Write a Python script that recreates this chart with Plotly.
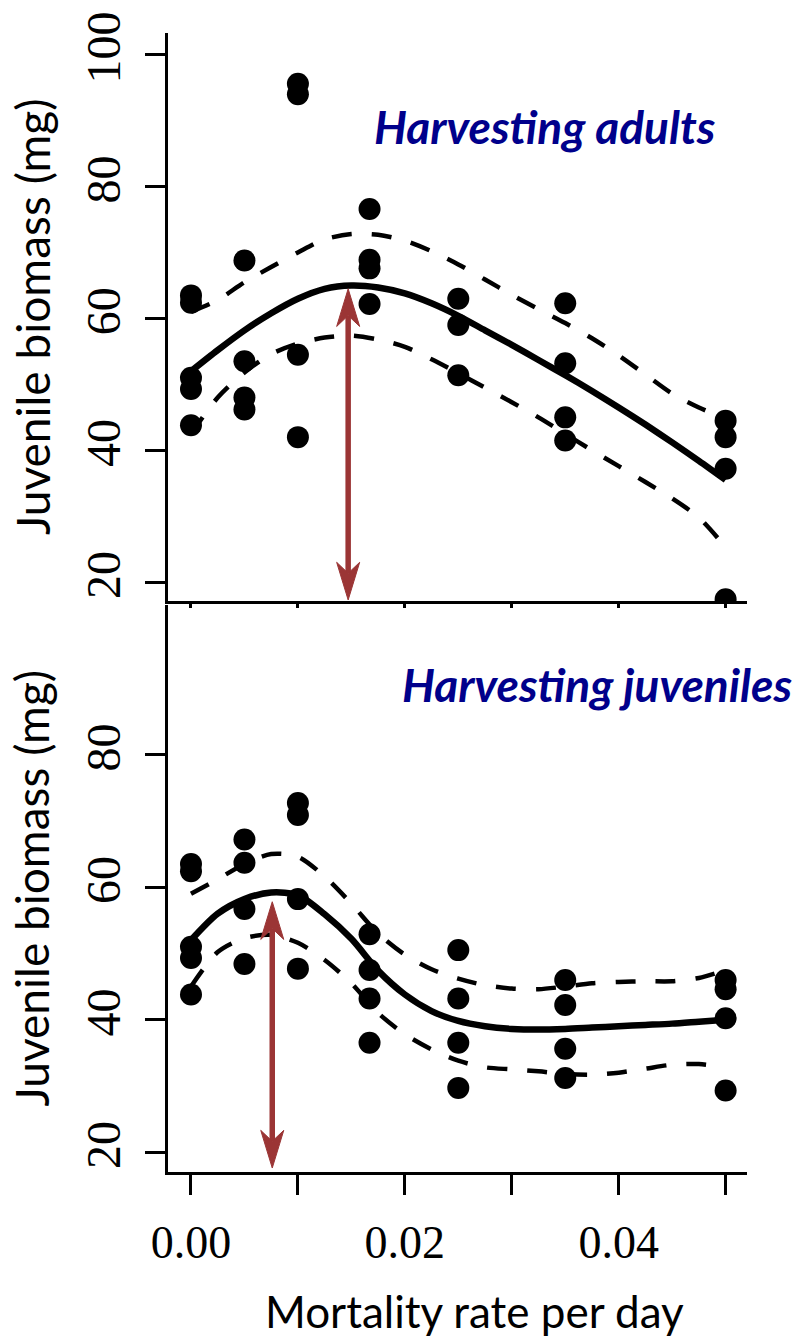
import plotly.graph_objects as go

# ---------------- data ----------------
# Mortality treatments (per day) for the observed replicates
dose_0 = 0.0
dose_1 = 0.005
dose_2 = 0.01
dose_3 = 0.0167
dose_4 = 0.025
dose_5 = 0.035
dose_6 = 0.05

# Harvesting adults: juvenile biomass (mg) per replicate
adult_x = [dose_0] * 5 + [dose_1] * 4 + [dose_2] * 4 + [dose_3] * 4 + [dose_4] * 3 + [dose_5] * 4 + [dose_6] * 4
adult_y = [63.5, 62.4, 51.0, 49.3, 43.8,
           68.8, 53.5, 48.0, 46.2,
           95.6, 94.0, 54.5, 42.0,
           76.6, 68.9, 67.6, 62.2,
           63.0, 59.0, 51.4,
           62.3, 53.2, 45.0, 41.5,
           44.5, 42.0, 37.2, 17.4]

# Harvesting juveniles: juvenile biomass (mg) per replicate
juv_x = [dose_0] * 5 + [dose_1] * 4 + [dose_2] * 4 + [dose_3] * 4 + [dose_4] * 4 + [dose_5] * 4 + [dose_6] * 4
juv_y = [63.5, 62.4, 51.0, 49.3, 43.8,
         67.2, 63.7, 56.7, 48.4,
         72.7, 70.9, 58.2, 47.7,
         52.9, 47.5, 43.2, 36.5,
         50.5, 43.2, 36.5, 29.7,
         46.0, 42.2, 35.6, 31.2,
         46.0, 44.6, 40.2, 29.3]

# Fitted curves and confidence bands, sampled along mortality rate
fit_x = [0.0, 0.0025, 0.005, 0.0075, 0.01, 0.0125, 0.015, 0.0175, 0.02, 0.0225, 0.025,
         0.0275, 0.03, 0.0325, 0.035, 0.0375, 0.04, 0.0425, 0.045, 0.0475, 0.05]

adult_fit = [52.0, 55.2, 58.2, 60.8, 63.0, 64.5, 65.0, 64.7, 63.8, 62.3, 60.4,
             58.2, 56.0, 53.7, 51.4, 49.0, 46.5, 43.9, 41.2, 38.4, 35.5]
adult_upper = [61.0, 62.8, 65.5, 67.8, 70.0, 72.0, 72.8, 72.7, 71.8, 70.2, 68.2,
               65.9, 63.6, 61.4, 59.3, 57.0, 54.4, 51.5, 48.6, 46.5, 44.8]
adult_lower = [42.5, 48.0, 51.8, 54.6, 56.2, 57.1, 57.4, 56.8, 55.7, 53.8, 51.7,
               49.5, 47.3, 45.0, 42.5, 40.0, 37.6, 35.2, 32.7, 29.8, 25.3]

juv_fit = [52.0, 56.0, 58.2, 59.2, 58.8, 55.9, 52.2, 47.4, 43.8, 41.3, 39.8,
           39.0, 38.6, 38.5, 38.6, 38.8, 39.0, 39.2, 39.4, 39.7, 40.0]
juv_upper = [59.0, 61.2, 63.5, 65.0, 64.6, 61.6, 57.5, 53.0, 49.8, 47.6, 46.2,
             45.2, 44.7, 44.6, 45.0, 45.5, 45.7, 45.8, 45.8, 46.3, 47.5]
juv_lower = [45.0, 50.2, 52.3, 52.8, 51.6, 49.0, 45.5, 41.0, 37.8, 35.5, 33.8,
             32.8, 32.5, 32.2, 31.8, 31.7, 32.0, 32.6, 33.2, 33.3, 32.8]

# Mortality rate giving the maximum juvenile biomass (arrow position, top, bottom)
adult_peak = (0.0147, 64.5, 17.3)
juv_peak = (0.0076, 57.8, 17.6)

x_tick_vals = [0.0, 0.01, 0.02, 0.03, 0.04, 0.05]
x_tick_text = ["0.00", "", "0.02", "", "0.04", ""]
top_y_ticks = [20, 40, 60, 80, 100]
bottom_y_ticks = [20, 40, 60, 80]

panel_labels = ["Harvesting adults", "Harvesting juveniles"]
y_title = "Juvenile biomass (mg)"
x_title = "Mortality rate per day"

# ---------------- layout constants ----------------
W, H = 808, 1340
ML, MR, MT, MB = 168, 61, 23, 168
X_RANGE = [-0.00215, 0.0520]
TOP_RANGE = [17.14, 103.3]
BOT_RANGE = [17.0, 102.6]
TOP_DOMAIN = [0.5013, 1.0]
BOT_DOMAIN = [0.0, 0.4978]

ARROW_RED = "#9B3535"
TITLE_BLUE = "#00008B"

plot_w = W - ML - MR
plot_h = H - MT - MB

fig = go.Figure()


def add_panel(px, py, fx, fit, up, lo, xa, ya):
    for band in (up, lo):
        fig.add_trace(go.Scatter(x=fx, y=band, mode="lines", xaxis=xa, yaxis=ya,
                                 line=dict(color="black", width=4.5, dash="20px,20px",
                                           shape="spline", smoothing=0.8),
                                 showlegend=False, hoverinfo="skip"))
    fig.add_trace(go.Scatter(x=fx, y=fit, mode="lines", xaxis=xa, yaxis=ya,
                             line=dict(color="black", width=6.5, shape="spline", smoothing=0.8),
                             showlegend=False, hoverinfo="skip"))
    fig.add_trace(go.Scatter(x=px, y=py, mode="markers", xaxis=xa, yaxis=ya,
                             marker=dict(color="black", size=22, line=dict(width=0)),
                             showlegend=False))


add_panel(adult_x, adult_y, fit_x, adult_fit, adult_upper, adult_lower, "x", "y")
add_panel(juv_x, juv_y, fit_x, juv_fit, juv_upper, juv_lower, "x2", "y2")


def double_arrow(peak, xref, yref, yrange, domain):
    """Vertical double-headed arrow with barbed heads, sized in pixels."""
    x, y_top, y_bot = peak
    panel_px = (domain[1] - domain[0]) * plot_h
    ppx = plot_w / (X_RANGE[1] - X_RANGE[0])
    ppy = panel_px / (yrange[1] - yrange[0])
    hw = 11.5 / ppx
    hl = 38 / ppy
    notch = 27 / ppy
    shapes = [
        dict(type="line", xref=xref, yref=yref, x0=x, x1=x,
             y0=y_top - notch, y1=y_bot + notch,
             line=dict(color=ARROW_RED, width=5.5), layer="above"),
        dict(type="path", xref=xref, yref=yref, layer="above",
             path=f"M{x},{y_top} L{x + hw},{y_top - hl} L{x},{y_top - notch} L{x - hw},{y_top - hl} Z",
             fillcolor=ARROW_RED, line=dict(color=ARROW_RED, width=1)),
        dict(type="path", xref=xref, yref=yref, layer="above",
             path=f"M{x},{y_bot} L{x + hw},{y_bot + hl} L{x},{y_bot + notch} L{x - hw},{y_bot + hl} Z",
             fillcolor=ARROW_RED, line=dict(color=ARROW_RED, width=1)),
    ]
    return shapes


shapes = double_arrow(adult_peak, "x", "y", TOP_RANGE, TOP_DOMAIN) + \
    double_arrow(juv_peak, "x2", "y2", BOT_RANGE, BOT_DOMAIN)

axis_common = dict(showline=True, linewidth=3, linecolor="black", showgrid=False,
                   zeroline=False, ticks="outside", tickwidth=3, tickcolor="black")
serif_x = dict(family="Liberation Serif", size=46, color="black")
serif_y = dict(family="Liberation Serif", size=48, color="black")

annotations = [
    dict(text=f"<b><i>{panel_labels[0]}</i></b>", xref="x domain", yref="y domain",
         x=0.651, y=0.835, xanchor="center", yanchor="middle", showarrow=False,
         font=dict(family="Lato", size=46, color=TITLE_BLUE)),
    dict(text=f"<b><i>{panel_labels[1]}</i></b>", xref="x2 domain", yref="y2 domain",
         x=0.741, y=0.86, xanchor="center", yanchor="middle", showarrow=False,
         font=dict(family="Lato", size=46, color=TITLE_BLUE)),
    dict(text=y_title, xref="paper", yref="y domain", x=(32 - ML) / plot_w, y=0.5,
         xanchor="center", yanchor="middle", textangle=-90, showarrow=False,
         font=dict(family="Lato", size=46, color="black")),
    dict(text=y_title, xref="paper", yref="y2 domain", x=(32 - ML) / plot_w, y=0.5,
         xanchor="center", yanchor="middle", textangle=-90, showarrow=False,
         font=dict(family="Lato", size=46, color="black")),
    dict(text=x_title, xref="paper", yref="paper", x=(474 - ML) / plot_w,
         y=-(1312 - (H - MB)) / plot_h, xanchor="center", yanchor="middle", showarrow=False,
         font=dict(family="Lato", size=44, color="black")),
]

fig.update_layout(
    width=W, height=H,
    margin=dict(l=ML, r=MR, t=MT, b=MB, pad=0),
    paper_bgcolor="white", plot_bgcolor="white",
    showlegend=False,
    xaxis=dict(**axis_common, domain=[0, 1], range=X_RANGE, anchor="y",
               tickvals=x_tick_vals, ticklen=4, showticklabels=False),
    xaxis2=dict(**axis_common, domain=[0, 1], range=X_RANGE, anchor="y2",
                tickvals=x_tick_vals, ticktext=x_tick_text, ticklen=20,
                tickfont=serif_x, ticklabelstandoff=8),
    yaxis=dict(**axis_common, domain=TOP_DOMAIN, range=TOP_RANGE, anchor="x",
               tickvals=top_y_ticks, ticklen=20, tickangle=-90, tickfont=serif_y,
               ticklabelstandoff=6),
    yaxis2=dict(**axis_common, domain=BOT_DOMAIN, range=BOT_RANGE, anchor="x2",
                tickvals=bottom_y_ticks, ticklen=20, tickangle=-90, tickfont=serif_y,
                ticklabelstandoff=6),
    shapes=shapes,
    annotations=annotations,
)

fig.write_html("out.html")
